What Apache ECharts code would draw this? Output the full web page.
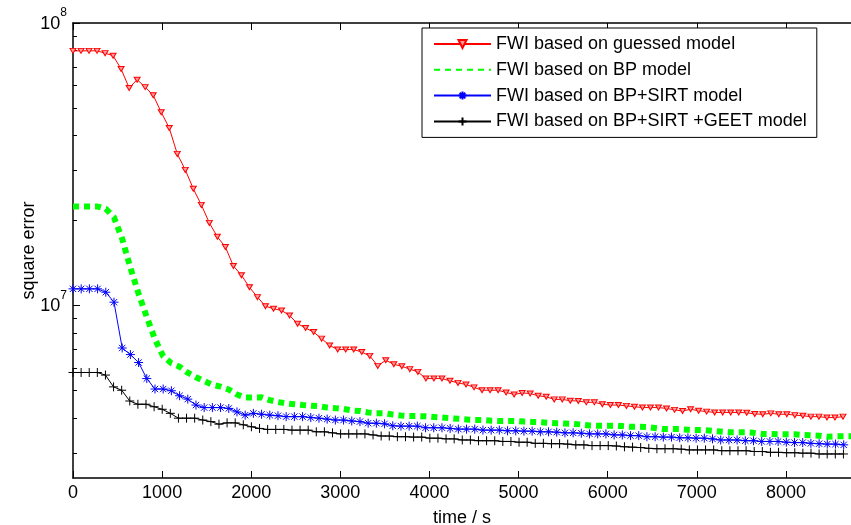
<!DOCTYPE html>
<html>
<head>
<meta charset="utf-8">
<script src="https://cdn.jsdelivr.net/npm/echarts@6/dist/echarts.min.js"></script>
<style>
  html, body { margin: 0; padding: 0; background: #fff; }
  #chart { width: 851px; height: 525px; }
</style>
</head>
<body>
<div id="chart"></div>
<script>
// tick labels
var xTicks = [0, 1000, 2000, 3000, 4000, 5000, 6000, 7000, 8000];
var yMajor = [1e7, 1e8];
var yMinor = [3e6, 4e6, 5e6, 6e6, 7e6, 8e6, 9e6, 2e7, 3e7, 4e7, 5e7, 6e7, 7e7, 8e7, 9e7];

var names = ['FWI based on guessed model', 'FWI based on BP model', 'FWI based on BP+SIRT model', 'FWI based on BP+SIRT +GEET model'];

// guessed model (time in s, error in 1e6)
var guessTime = [0,90,180,270,360,450,540,630,720,810,900,990,1080,1170,1260,1350,1440,1530,1620,1710,1800,1890,1980,2070,2160,2250,2340,2430,2520,2610,2700,2790,2880,2970,3060,3150,3240,3330,3420,3510,3600,3690,3780,3870,3960,4050,4140,4230,4320,4410,4500,4590,4680,4770,4860,4950,5040,5130,5220,5310,5400,5490,5580,5670,5760,5850,5940,6030,6120,6210,6300,6390,6480,6570,6660,6750,6840,6930,7020,7110,7200,7290,7380,7470,7560,7650,7740,7830,7920,8010,8100,8190,8280,8370,8460,8550,8640];
var guessErr = [79.7,79.7,79.7,79.7,78.2,76.6,68.7,58.9,63.0,59.3,55.5,48.3,42.5,34.4,30.2,25.9,22.7,19.6,17.5,16.1,13.8,12.8,11.6,10.7,9.94,9.74,9.60,9.22,8.62,8.32,8.05,7.63,7.22,6.98,6.98,6.98,6.84,6.63,6.11,6.40,6.19,6.09,5.95,5.82,5.51,5.51,5.51,5.41,5.32,5.25,5.13,5.01,5.01,5.01,4.92,4.84,4.90,4.88,4.79,4.75,4.65,4.65,4.60,4.59,4.54,4.54,4.47,4.44,4.44,4.41,4.38,4.35,4.35,4.35,4.32,4.27,4.23,4.29,4.24,4.21,4.18,4.18,4.18,4.18,4.17,4.13,4.12,4.15,4.12,4.12,4.09,4.07,4.04,4.04,4.01,4.01,4.04];

// BP model
var bpTime = [0,92,184,276,368,460,552,644,736,828,920,1012,1104,1196,1288,1380,1472,1564,1656,1748,1840,1932,2024,2116,2208,2300,2392,2484,2576,2668,2760,2852,2944,3036,3128,3220,3312,3404,3496,3588,3680,3772,3864,3956,4048,4140,4232,4324,4416,4508,4600,4692,4784,4876,4968,5060,5152,5244,5336,5428,5520,5612,5704,5796,5888,5980,6072,6164,6256,6348,6440,6532,6624,6716,6808,6900,6992,7084,7176,7268,7360,7452,7544,7636,7728,7820,7912,8004,8096,8188,8280,8372,8464,8556,8648,8740];
var bpErr = [22.4,22.4,22.4,22.4,22.0,20.5,17.2,13.6,11.0,9.1,7.59,6.61,6.24,6.07,5.78,5.57,5.40,5.24,5.16,5.04,4.84,4.72,4.72,4.73,4.62,4.55,4.50,4.47,4.44,4.42,4.40,4.35,4.33,4.30,4.25,4.23,4.18,4.15,4.15,4.11,4.08,4.06,4.06,4.05,4.03,4.01,3.99,3.97,3.95,3.93,3.93,3.91,3.90,3.90,3.90,3.88,3.87,3.86,3.84,3.83,3.82,3.81,3.79,3.76,3.75,3.75,3.75,3.74,3.72,3.72,3.71,3.68,3.65,3.65,3.65,3.63,3.62,3.62,3.60,3.58,3.56,3.56,3.56,3.54,3.51,3.51,3.50,3.50,3.50,3.48,3.47,3.46,3.43,3.44,3.44,3.44];

// BP+SIRT model
var sirtTime = [0,92,184,276,368,460,552,644,736,828,920,1012,1104,1196,1288,1380,1472,1564,1656,1748,1840,1932,2024,2116,2208,2300,2392,2484,2576,2668,2760,2852,2944,3036,3128,3220,3312,3404,3496,3588,3680,3772,3864,3956,4048,4140,4232,4324,4416,4508,4600,4692,4784,4876,4968,5060,5152,5244,5336,5428,5520,5612,5704,5796,5888,5980,6072,6164,6256,6348,6440,6532,6624,6716,6808,6900,6992,7084,7176,7268,7360,7452,7544,7636,7728,7820,7912,8004,8096,8188,8280,8372,8464,8556,8648];
var sirtErr = [11.45,11.45,11.45,11.45,11.14,10.27,7.07,6.70,6.28,5.51,5.06,5.06,4.99,4.79,4.66,4.44,4.35,4.35,4.35,4.32,4.20,4.09,4.15,4.12,4.09,4.07,4.04,4.04,4.04,4.01,3.99,3.96,3.93,3.93,3.90,3.88,3.83,3.83,3.81,3.75,3.74,3.74,3.74,3.69,3.69,3.69,3.67,3.65,3.65,3.65,3.62,3.62,3.62,3.60,3.60,3.59,3.59,3.57,3.57,3.56,3.54,3.54,3.53,3.51,3.51,3.51,3.48,3.48,3.46,3.46,3.43,3.43,3.42,3.42,3.40,3.40,3.39,3.39,3.37,3.34,3.34,3.34,3.32,3.32,3.30,3.30,3.30,3.28,3.27,3.27,3.25,3.24,3.23,3.23,3.21];

// BP+SIRT+GEET model
var geetTime = [0,91,182,273,364,455,546,637,728,819,910,1001,1092,1183,1274,1365,1456,1547,1638,1729,1820,1911,2002,2093,2184,2275,2366,2457,2548,2639,2730,2821,2912,3003,3094,3185,3276,3367,3458,3549,3640,3731,3822,3913,4004,4095,4186,4277,4368,4459,4550,4641,4732,4823,4914,5005,5096,5187,5278,5369,5460,5551,5642,5733,5824,5915,6006,6097,6188,6279,6370,6461,6552,6643,6734,6825,6916,7007,7098,7189,7280,7371,7462,7553,7644,7735,7826,7917,8008,8099,8190,8281,8372,8463,8554,8645];
var geetErr = [5.79,5.79,5.79,5.79,5.67,5.15,5.01,4.59,4.47,4.47,4.38,4.29,4.15,3.99,3.99,3.99,3.93,3.88,3.80,3.84,3.84,3.78,3.72,3.67,3.64,3.64,3.64,3.62,3.62,3.62,3.57,3.57,3.54,3.51,3.51,3.51,3.51,3.48,3.45,3.45,3.43,3.43,3.42,3.42,3.39,3.39,3.37,3.37,3.34,3.34,3.32,3.32,3.32,3.30,3.30,3.28,3.28,3.25,3.25,3.24,3.24,3.23,3.21,3.21,3.19,3.19,3.19,3.18,3.16,3.15,3.14,3.12,3.11,3.11,3.11,3.10,3.08,3.08,3.08,3.08,3.06,3.06,3.06,3.06,3.04,3.04,3.02,3.02,3.01,3.01,3.00,3.00,2.98,2.98,2.98,2.98];

var FONT = '"Liberation Sans", Arial, sans-serif';

function pairs(t, v) {
  return t.map(function (x, i) { return [x, v[i] * 1e6]; });
}

var chart = echarts.init(document.getElementById('chart'));

var option = {
  animation: false,
  backgroundColor: '#fff',
  textStyle: { fontFamily: FONT },
  grid: { left: 73, top: 23, right: 0, bottom: 47, outerBoundsMode: 'none', containLabel: false },
  legend: {
    orient: 'vertical',
    left: 422,
    top: 28,
    data: [
      names[0],
      { name: names[1], itemStyle: { opacity: 0 } },
      names[2],
      names[3]
    ],
    backgroundColor: '#fff',
    borderColor: '#000',
    borderWidth: 1,
    borderRadius: 0,
    padding: [6, 10, 6, 11],
    itemGap: 5.8,
    itemWidth: 57,
    itemHeight: 10,
    textStyle: { fontSize: 18, fontFamily: FONT, color: '#000', lineHeight: 20 }
  },
  xAxis: [{
    type: 'value',
    min: 0,
    max: 8730,
    name: 'time / s',
    nameLocation: 'middle',
    nameGap: 31,
    nameMoveOverlap: false,
    nameTextStyle: { fontSize: 18, fontFamily: FONT, color: '#000' },
    axisLine: { onZero: false, lineStyle: { color: '#000', width: 1.5 } },
    axisTick: { inside: true, length: 7, customValues: xTicks, lineStyle: { color: '#000' } },
    axisLabel: {
      customValues: xTicks, fontSize: 18, fontFamily: FONT, color: '#000', margin: 6,
      formatter: function (v) { return String(v); }
    },
    splitLine: { show: false }
  }, {
    type: 'value',
    min: 0,
    max: 8730,
    position: 'top',
    axisLine: { onZero: false, lineStyle: { color: '#000', width: 1.5 } },
    axisTick: { inside: true, length: 7, customValues: xTicks, lineStyle: { color: '#000' } },
    axisLabel: { show: false },
    splitLine: { show: false }
  }],
  yAxis: [{
    type: 'log',
    logBase: 10,
    min: 2.45e6,
    max: 1e8,
    name: 'square error',
    nameLocation: 'middle',
    nameGap: 35,
    nameMoveOverlap: false,
    nameTextStyle: { fontSize: 18, fontFamily: FONT, color: '#000' },
    axisLine: { onZero: false, lineStyle: { color: '#000', width: 1.5 } },
    axisTick: { inside: true, length: 7, customValues: yMajor, lineStyle: { color: '#000' } },
    axisLabel: {
      customValues: yMajor,
      margin: 6,
      formatter: function (v) {
        return '{b|10}{s|' + Math.round(Math.log10(v)) + '}';
      },
      rich: {
        b: { fontSize: 18, fontFamily: FONT, color: '#000', lineHeight: 18, padding: [2, 0, 0, 0] },
        s: { fontSize: 12, fontFamily: FONT, color: '#000', padding: [0, 0, 20, 0] }
      }
    },
    splitLine: { show: false }
  }, {
    type: 'log',
    logBase: 10,
    min: 2.45e6,
    max: 1e8,
    position: 'left',
    axisLine: { show: false },
    axisTick: { inside: true, length: 4, customValues: yMinor, lineStyle: { color: '#000' } },
    axisLabel: { show: false },
    splitLine: { show: false }
  }],
  series: [
    {
      name: names[0],
      type: 'line',
      data: pairs(guessTime, guessErr),
      symbol: 'path://M0,0 L10,0 L5,8.5 Z',
      symbolSize: [6, 5],
      showAllSymbol: true,
      lineStyle: { color: '#ff0000', width: 1 },
      itemStyle: { color: '#ff9a9a', borderColor: '#ff0000', borderWidth: 1 }
    },
    {
      name: names[1],
      type: 'line',
      data: pairs(bpTime, bpErr),
      symbol: 'none',
      lineStyle: { color: '#00ff00', width: 6, type: [6, 5], cap: 'butt' },
      itemStyle: { color: '#00ff00' }
    },
    {
      name: names[2],
      type: 'line',
      data: pairs(sirtTime, sirtErr),
      symbol: 'path://M5,0 L5,10 M0,5 L10,5 M1.5,1.5 L8.5,8.5 M1.5,8.5 L8.5,1.5',
      symbolSize: 9,
      showAllSymbol: true,
      lineStyle: { color: '#0000ff', width: 1 },
      itemStyle: { color: 'rgba(0,0,0,0)', borderColor: '#0000ff', borderWidth: 1 }
    },
    {
      name: names[3],
      type: 'line',
      data: pairs(geetTime, geetErr),
      symbol: 'path://M5,0 L5,10 M0,5 L10,5',
      symbolSize: 9,
      showAllSymbol: true,
      lineStyle: { color: '#000000', width: 1 },
      itemStyle: { color: 'rgba(0,0,0,0)', borderColor: '#000000', borderWidth: 1 }
    }
  ]
};

chart.setOption(option);
</script>
</body>
</html>
